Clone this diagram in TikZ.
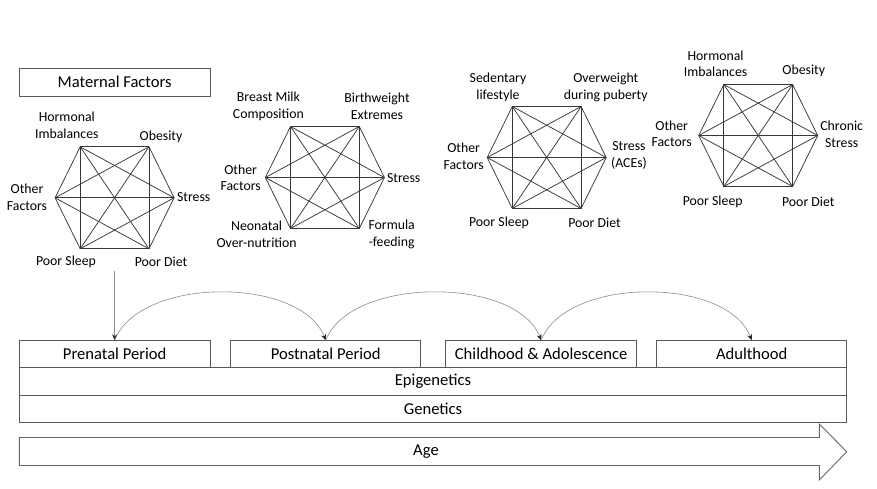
\documentclass[tikz,border=0pt]{standalone}
\usepackage{fontspec}
\setmainfont{Carlito}
\usetikzlibrary{arrows.meta}
\tikzset{
  boxnode/.style={draw=black!65, line width=0.9pt, rectangle, inner sep=0pt, font=\fontsize{16.6}{19}\selectfont},
  hexline/.style={draw=black!78, line width=0.75pt},
  lbl/.style={align=center, inner sep=0pt, font=\fontsize{13.8}{16.8}\selectfont},
  flowarrow/.style={draw=black!45, line width=0.6pt, -{Stealth[length=6pt,width=5pt,color=black!85]}},
}
\begin{document}
\begin{tikzpicture}[x=1pt,y=-1pt]
\useasboundingbox (0,0) rectangle (877,489);
% hexagons (complete graphs on six vertices)
\foreach \n/\cx/\cy in {1/114.6/197.8, 2/324.9/177.5, 3/546.7/157.5, 4/758.2/135.5}{
  \coordinate (h\n-1) at (\cx-34.4,\cy-51);
  \coordinate (h\n-2) at (\cx+34.4,\cy-51);
  \coordinate (h\n-3) at (\cx+59.5,\cy);
  \coordinate (h\n-4) at (\cx+34.4,\cy+51);
  \coordinate (h\n-5) at (\cx-34.4,\cy+51);
  \coordinate (h\n-6) at (\cx-59.5,\cy);
  \foreach \a in {1,...,5}{
    \pgfmathtruncatemacro\s{\a+1}
    \foreach \b in {\s,...,6}{
      \draw[hexline] (h\n-\a) -- (h\n-\b);
    }
  }
}
% labels hexagon 1
\node[lbl] (l1a) at (66.8,125.3) {Hormonal\\Imbalances};
\node[lbl] (l1b) at (161,136.7) {Obesity};
\node[lbl] (l1c) at (193.7,196.7) {Stress};
\node[lbl] (l1d) at (27,197) {Other\\Factors};
\node[lbl] (l1e) at (66,261.7) {Poor Sleep};
\node[lbl] (l1f) at (161,261.7) {Poor Diet};
% labels hexagon 2
\node[lbl] (l2a) at (268.4,106.3) {Breast Milk\\Composition};
\node[lbl] (l2b) at (377,106.3) {Birthweight\\Extremes};
\node[lbl] (l2c) at (403.7,178.3) {Stress};
\node[lbl] (l2d) at (240.7,177.7) {Other\\Factors};
\node[lbl] (l2e) at (256.6,234.5) {Neonatal\\Over-nutrition};
\node[lbl] (l2f) at (391.7,234.5) {Formula\\-feeding};
% labels hexagon 3
\node[lbl] (l3a) at (498,87.7) {Sedentary\\lifestyle};
\node[lbl] (l3b) at (605.8,87.7) {Overweight\\during puberty};
\node[lbl] (l3c) at (629,155.8) {Stress\\(ACEs)};
\node[lbl] (l3d) at (463.7,156.3) {Other\\Factors};
\node[lbl] (l3e) at (499,223.3) {Poor Sleep};
\node[lbl] (l3f) at (594.5,223.3) {Poor Diet};
% labels hexagon 4
\node[lbl] (l4a) at (715.6,63.7) {Hormonal\\Imbalances};
\node[lbl] (l4b) at (803.7,71) {Obesity};
\node[lbl] (l4c) at (841.7,134.3) {Chronic\\Stress};
\node[lbl] (l4d) at (671.7,133.8) {Other\\Factors};
\node[lbl] (l4e) at (712.7,201.7) {Poor Sleep};
\node[lbl] (l4f) at (808.3,201.7) {Poor Diet};
% boxes
\node[boxnode, minimum width=190.7, minimum height=27.7] (mat) at (114.65,82.2) {Maternal Factors};
\node[boxnode, minimum width=190.7, minimum height=27] (pre) at (114.65,354.2) {Prenatal Period};
\node[boxnode, minimum width=190, minimum height=27] (post) at (325.7,354.2) {Postnatal Period};
\node[boxnode, minimum width=191, minimum height=27] (child) at (541.2,354.2) {Childhood \& Adolescence};
\node[boxnode, minimum width=190, minimum height=27] (adult) at (751.7,354.2) {Adulthood};
\node[boxnode, minimum width=827.4, minimum height=27.3] (epi) at (433,381.35) {Epigenetics};
\node[boxnode, minimum width=827.4, minimum height=27.3] (gen) at (433,408.65) {Genetics};
% age arrow
\draw[draw=black!60, line width=0.9pt, line join=miter]
  (19.3,437.5) -- (819.3,437.5) -- (819.3,424) -- (846.7,451.7) -- (819.3,480)
  -- (819.3,465.5) -- (19.3,465.5) -- cycle;
\node[inner sep=0pt, font=\fontsize{16.6}{19}\selectfont] (age) at (426,451.5) {Age};
% connectors
\coordinate (mfend) at (114.65,271);
\draw[flowarrow] (mfend) -- (pre.north);
\draw[flowarrow] (pre.north) .. controls +(25,-64) and +(-25,-64) .. (post.north);
\draw[flowarrow] (post.north) .. controls +(25,-64) and +(-25,-64) .. (child.north);
\draw[flowarrow] (child.north) .. controls +(25,-64) and +(-25,-64) .. (adult.north);
\end{tikzpicture}
\end{document}
